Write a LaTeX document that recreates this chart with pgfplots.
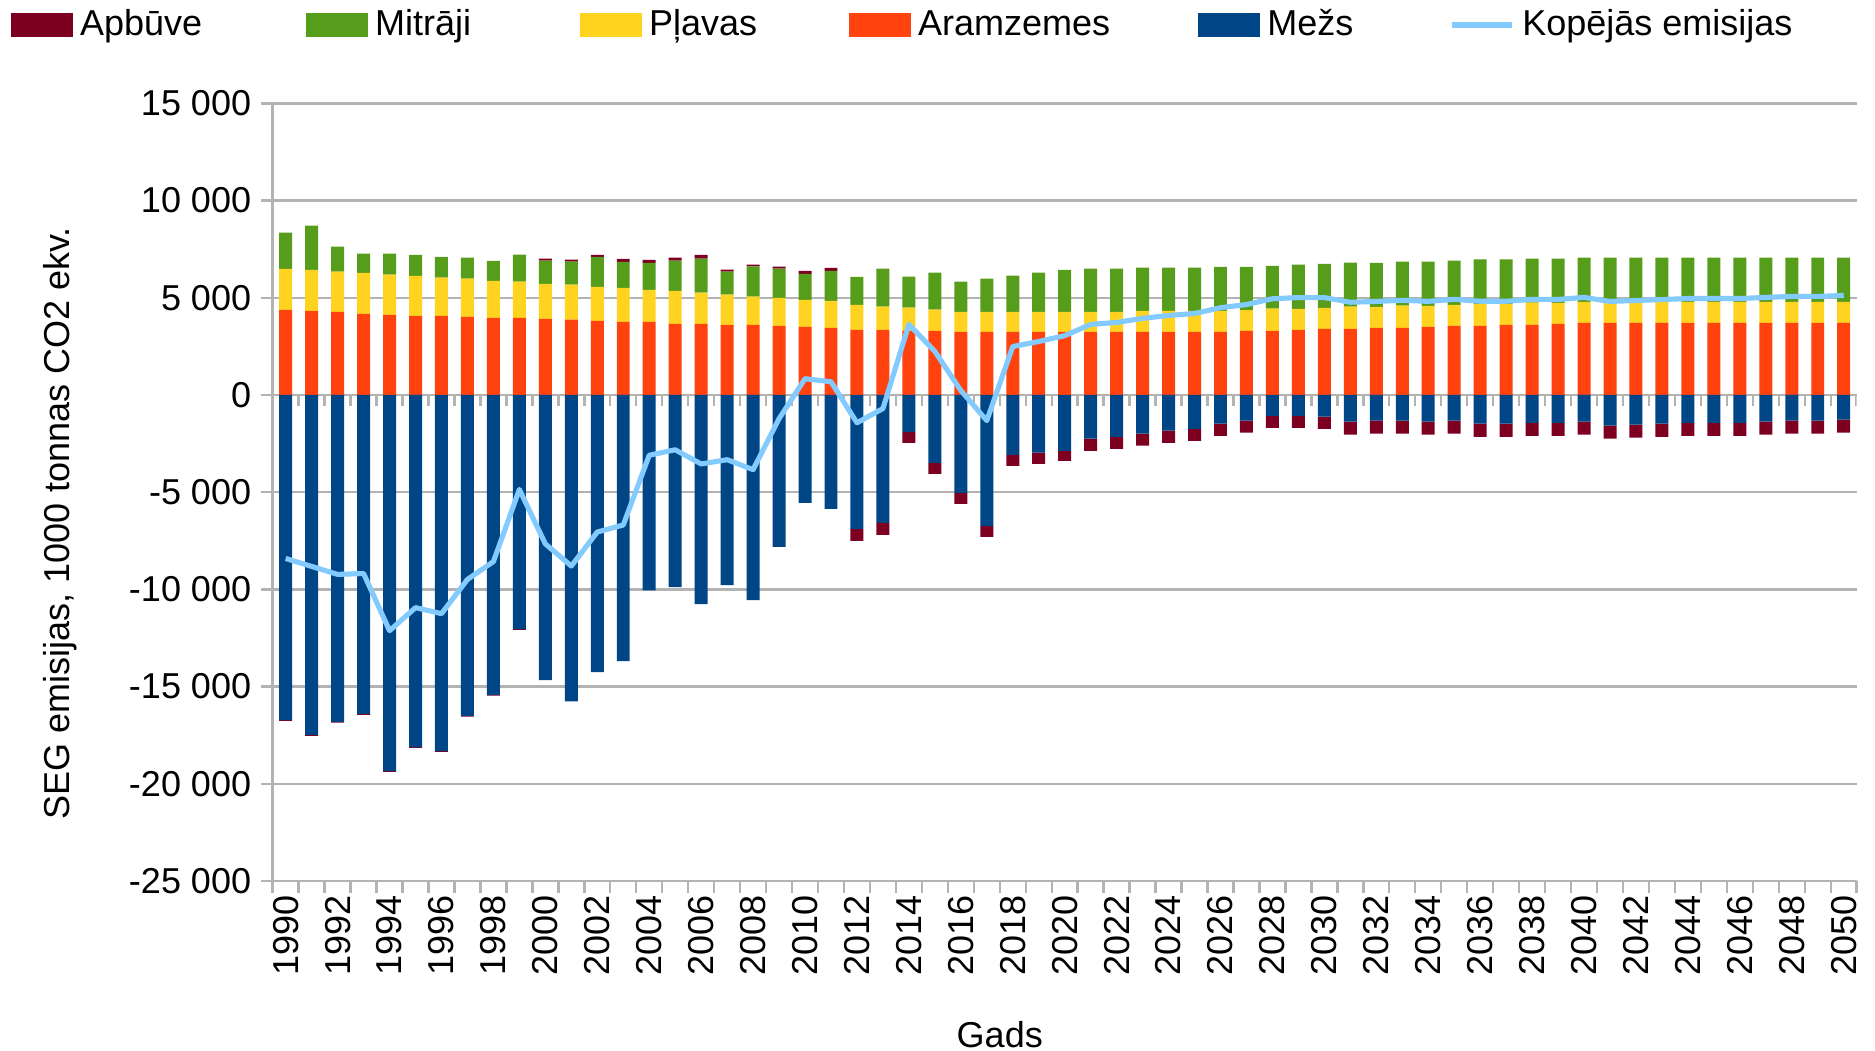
\documentclass[border=0pt]{standalone}
\usepackage{fontspec}
\setmainfont{Liberation Sans}
\usepackage{pgfplots}
\usepackage{pgfplotstable}
\pgfplotsset{compat=1.18}
\definecolor{apb}{HTML}{7E0021}
\definecolor{mit}{HTML}{579D1C}
\definecolor{pla}{HTML}{FFD320}
\definecolor{ara}{HTML}{FF420E}
\definecolor{mez}{HTML}{004586}
\definecolor{tot}{HTML}{83CAFF}
\definecolor{gridgray}{HTML}{B3B3B3}

\pgfplotstableread{
year aram plav mit apbpos apbneg mezs total
1990 4380 2110 1860 0 -40 -16720 -8410
1991 4330 2110 2270 0 -40 -17490 -8820
1992 4280 2060 1290 0 -40 -16820 -9230
1993 4175 2110 980 0 -40 -16410 -9185
1994 4125 2060 1080 0 -40 -19350 -12125
1995 4070 2060 1080 0 -40 -18110 -10940
1996 4070 1960 1080 0 -40 -18320 -11250
1997 4020 1960 1080 0 -40 -16510 -9490
1998 3970 1900 1030 0 -40 -15430 -8570
1999 3970 1860 1390 0 -40 -12040 -4860
2000 3920 1800 1190 100 0 -14670 -7660
2001 3870 1800 1190 100 0 -15760 -8800
2002 3810 1750 1550 100 0 -14260 -7050
2003 3760 1750 1340 150 0 -13690 -6690
2004 3760 1650 1390 150 0 -10050 -3100
2005 3660 1700 1550 150 0 -9880 -2820
2006 3660 1600 1750 200 0 -10760 -3550
2007 3610 1550 1190 100 0 -9780 -3330
2008 3610 1450 1550 100 0 -10550 -3840
2009 3560 1440 1500 100 0 -7820 -1220
2010 3505 1390 1340 150 0 -5550 835
2011 3450 1390 1550 150 0 -5860 680
2012 3350 1290 1440 0 -620 -6890 -1430
2013 3350 1190 1960 0 -620 -6580 -700
2014 3300 1190 1600 0 -550 -1910 3630
2015 3300 1090 1910 0 -570 -3490 2240
2016 3250 1030 1550 0 -570 -5030 230
2017 3250 1030 1700 0 -550 -6750 -1320
2018 3250 1030 1860 0 -570 -3080 2490
2019 3250 1030 2010 0 -570 -2970 2750
2020 3250 1030 2160 0 -520 -2870 3050
2021 3250 1030 2220 0 -620 -2250 3630
2022 3250 1030 2220 0 -620 -2150 3730
2023 3250 1080 2220 0 -620 -1990 3940
2024 3250 1080 2220 0 -620 -1840 4090
2025 3250 1080 2220 0 -620 -1740 4190
2026 3250 1070 2270 0 -620 -1480 4490
2027 3300 1070 2220 0 -620 -1320 4650
2028 3300 1140 2200 0 -620 -1070 4950
2029 3350 1080 2270 0 -620 -1070 5010
2030 3400 1080 2270 0 -620 -1120 5010
2031 3400 1140 2270 0 -670 -1370 4770
2032 3450 1080 2270 0 -670 -1320 4810
2033 3450 1140 2270 0 -670 -1320 4870
2034 3505 1080 2270 0 -670 -1370 4815
2035 3560 1080 2270 0 -670 -1320 4920
2036 3560 1120 2290 0 -670 -1480 4820
2037 3610 1070 2290 0 -670 -1480 4820
2038 3610 1140 2270 0 -670 -1430 4920
2039 3660 1080 2270 0 -670 -1430 4910
2040 3710 1080 2270 0 -670 -1370 5020
2041 3710 1080 2270 0 -670 -1580 4810
2042 3710 1080 2270 0 -670 -1530 4860
2043 3710 1080 2270 0 -670 -1480 4910
2044 3710 1080 2270 0 -670 -1430 4960
2045 3710 1080 2270 0 -670 -1430 4960
2046 3710 1080 2270 0 -670 -1430 4960
2047 3710 1080 2270 0 -670 -1370 5020
2048 3710 1080 2270 0 -670 -1320 5070
2049 3710 1080 2270 0 -670 -1320 5070
2050 3710 1080 2270 0 -670 -1270 5120
}\datatable

\pgfplotsset{
  common/.style={
    scale only axis, width=528pt, height=259.2pt,
    at={(90.9pt,56.67pt)}, anchor=south west,
    xmin=1989.5, xmax=2050.5, ymin=-25000, ymax=15000,
    enlargelimits=false, scaled ticks=false,
  },
}

\begin{document}
\begin{tikzpicture}[font=\fontsize{12}{14}\selectfont]
\useasboundingbox (0,0) rectangle (625pt,350.33pt);
% axis 1: frame, grid, positive stack, legend
\begin{axis}[common,
  ybar stacked, bar width=0.5,
  axis y line*=left, axis x line*=bottom,
  axis line style={draw=gridgray, line width=0.8pt},
  tick style={draw=gridgray, line width=0.8pt},
  tick align=outside, major tick length=4pt,
  ymajorgrids, grid style={draw=gridgray, line width=0.8pt},
  ytick={-25000,-20000,-15000,-10000,-5000,0,5000,10000,15000},
  yticklabels={-25 000,-20 000,-15 000,-10 000,-5 000,0,5 000,10 000,15 000},
  yticklabel style={inner sep=0pt, xshift=-3pt},
  xtick={1989.5,1990.5,...,2050.5},
  xticklabels={},
  extra x ticks={1990,1992,...,2050},
  extra x tick labels={1990,1992,1994,1996,1998,2000,2002,2004,2006,2008,2010,2012,2014,2016,2018,2020,2022,2024,2026,2028,2030,2032,2034,2036,2038,2040,2042,2044,2046,2048,2050},
  extra x tick style={major tick length=0pt, grid=none,
    tick label style={rotate=90, anchor=east, inner sep=0pt, xshift=-4.5pt}},
  ylabel={SEG emisijas, 1000 tonnas CO2 ekv.},
  ylabel style={at={(axis description cs:-0.1343,0.46)}, anchor=center},
  xlabel={Gads},
  xlabel style={at={(axis description cs:0.459,-0.1975)}, anchor=center},
  legend columns=-1,
  legend style={draw=none, fill=none, inner sep=0pt, outer sep=0pt,
    at={(axis description cs:-0.1652,1.1007)}, anchor=west,
    nodes={inner sep=0pt},
    /tikz/every odd column/.append style={column sep=2.3pt},
    /tikz/every even column/.append style={column sep=0pt}},
]
\addlegendimage{legend image code/.code={\fill[apb] (0pt,-3.7pt) rectangle (20.3pt,3.7pt);}}
\addlegendentry{\makebox[75.4pt][l]{Apbūve}}
\addlegendimage{legend image code/.code={\fill[mit] (0pt,-3.7pt) rectangle (20.3pt,3.7pt);}}
\addlegendentry{\makebox[68.3pt][l]{Mitrāji}}
\addlegendimage{legend image code/.code={\fill[pla] (0pt,-3.7pt) rectangle (20.3pt,3.7pt);}}
\addlegendentry{\makebox[66.7pt][l]{Pļavas}}
\addlegendimage{legend image code/.code={\fill[ara] (0pt,-3.7pt) rectangle (20.3pt,3.7pt);}}
\addlegendentry{\makebox[93.4pt][l]{Aramzemes}}
\addlegendimage{legend image code/.code={\fill[mez] (0pt,-3.7pt) rectangle (20.3pt,3.7pt);}}
\addlegendentry{\makebox[60.4pt][l]{Mežs}}
\addlegendimage{legend image code/.code={\draw[tot, line width=2pt] (0pt,0pt) -- (20.3pt,0pt);}}
\addlegendentry{Kopējās emisijas}
\addplot[forget plot, fill=ara, draw=none] table[x=year, y=aram] {\datatable};
\addplot[forget plot, fill=pla, draw=none] table[x=year, y=plav] {\datatable};
\addplot[forget plot, fill=mit, draw=none] table[x=year, y=mit] {\datatable};
\addplot[forget plot, fill=apb, draw=none] table[x=year, y=apbpos] {\datatable};
\pgfplotsinvokeforeach{1989.5,1990.5,...,2050.5}{
  \draw[gridgray, line width=0.8pt] (axis cs:#1,0) -- ++(0pt,-3.7pt);
}
\end{axis}
% axis 2: negative stack
\begin{axis}[common, hide axis, ybar stacked, bar width=0.5]
\addplot[fill=mez, draw=none] table[x=year, y=mezs] {\datatable};
\addplot[fill=apb, draw=none] table[x=year, y=apbneg] {\datatable};
\end{axis}
% axis 3: total line
\begin{axis}[common, hide axis]
\addplot[tot, line width=1.7pt, line join=round, mark=none] table[x=year, y=total] {\datatable};
\end{axis}
\end{tikzpicture}
\end{document}
